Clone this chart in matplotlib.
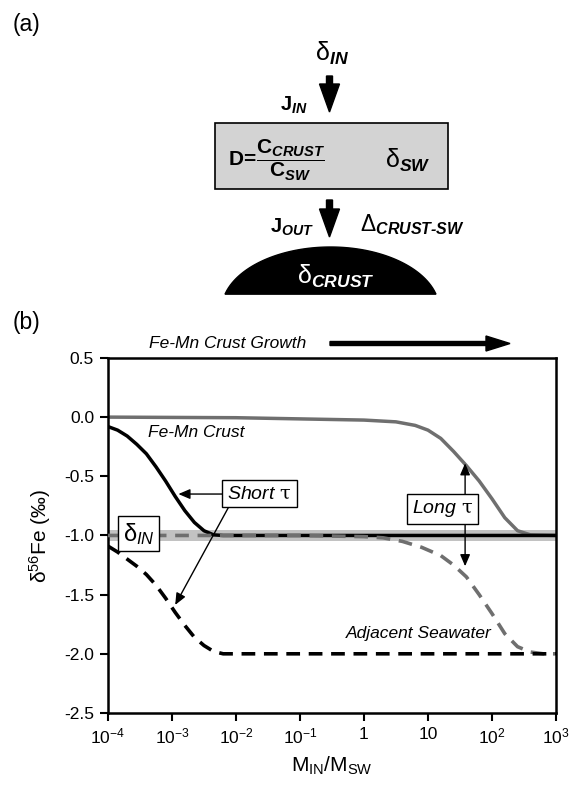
import numpy as np
import matplotlib
matplotlib.use("Agg")
import matplotlib.pyplot as plt
from matplotlib.patches import Rectangle, Polygon, FancyArrow
from matplotlib.ticker import FixedLocator, FixedFormatter, NullLocator

plt.rcParams["font.family"] = ["Liberation Sans", "DejaVu Sans"]
plt.rcParams["mathtext.fontset"] = "custom"
plt.rcParams["mathtext.rm"] = "Liberation Sans"
plt.rcParams["mathtext.it"] = "Liberation Sans:italic"
plt.rcParams["mathtext.bf"] = "Liberation Sans:bold"
plt.rcParams["mathtext.bfit"] = "Liberation Sans:italic:bold"
plt.rcParams["axes.unicode_minus"] = False

# ---------- model curves (x given as log10 of M_IN/M_SW) ----------
DELTA_IN = -1.0

crust_short_logx = [-4.0, -3.85, -3.7, -3.55, -3.4, -3.25, -3.1, -2.95, -2.8,
                    -2.65, -2.5, -2.35, -2.2, 3.0]
crust_short = [-0.08, -0.11, -0.16, -0.23, -0.31, -0.42, -0.54, -0.67, -0.79,
               -0.89, -0.96, -0.995, -1.0, -1.0]

sw_short_logx = [-4.0, -3.85, -3.7, -3.55, -3.4, -3.25, -3.1, -2.95, -2.8,
                 -2.65, -2.5, -2.35, -2.2, 3.0]
sw_short = [-1.09, -1.14, -1.20, -1.26, -1.33, -1.42, -1.53, -1.65, -1.76,
            -1.86, -1.93, -1.98, -2.0, -2.0]

crust_long_logx = [-4.0, -2.0, -1.0, 0.0, 0.5, 0.8, 1.0, 1.2, 1.4, 1.6, 1.8,
                   2.0, 2.2, 2.4, 2.6, 3.0]
crust_long = [0.0, -0.005, -0.015, -0.025, -0.04, -0.07, -0.11, -0.18, -0.29,
              -0.41, -0.54, -0.69, -0.85, -0.96, -0.995, -1.0]

sw_long_logx = [-4.0, -1.0, 0.0, 0.3, 0.6, 0.9, 1.2, 1.4, 1.6, 1.8, 2.0, 2.2,
                2.4, 2.6, 2.8, 3.0]
sw_long = [-1.0, -1.0, -1.01, -1.02, -1.05, -1.10, -1.17, -1.25, -1.35, -1.50,
           -1.66, -1.83, -1.94, -1.985, -2.0, -2.0]

x_ticks = [1e-4, 1e-3, 1e-2, 1e-1, 1, 10, 1e2, 1e3]
x_labels = ["10$^{-4}$", "10$^{-3}$", "10$^{-2}$", "10$^{-1}$", "1", "10",
            "10$^{2}$", "10$^{3}$"]
y_ticks = [0.5, 0.0, -0.5, -1.0, -1.5, -2.0, -2.5]
y_labels = ["0.5", "0.0", "-0.5", "-1.0", "-1.5", "-2.0", "-2.5"]

GRAY = "#6f6f6f"
BAND = "#c2c2c2"

fig = plt.figure(figsize=(5.85, 7.86), dpi=100)

# ---------- box model sketch, drawn in pixel units ----------
sk = fig.add_axes([0, 0, 1, 1])
sk.set_xlim(0, 585)
sk.set_ylim(786, 0)
sk.axis("off")

sk.text(13, 24, "(a)", fontsize=16.5, ha="left", va="center")
sk.text(332, 53, r"δ$_{\mathbfit{IN}}$", fontsize=18, ha="center", va="center")
sk.add_patch(FancyArrow(329.5, 76, 0, 36, width=6, head_width=20,
                        head_length=28, length_includes_head=True,
                        color="black"))
sk.text(294, 105, r"$\mathbf{J}_{\mathbfit{IN}}$", fontsize=14.5,
        ha="center", va="center")

sk.add_patch(Rectangle((214.5, 123), 233.5, 66, facecolor="#d3d3d3",
                       edgecolor="black", lw=1.2))
sk.text(228, 160,
        r"$\mathbf{D\!=\!}\dfrac{\mathbf{C}_{\mathbfit{CRUST}}}"
        r"{\mathbf{C}_{\mathbfit{SW}}}$",
        fontsize=15, ha="left", va="center")
sk.text(408, 160, r"δ$_{\mathbfit{SW}}$", fontsize=18, ha="center",
        va="center")

sk.add_patch(FancyArrow(329.5, 200, 0, 37, width=6, head_width=20,
                        head_length=28, length_includes_head=True,
                        color="black"))
sk.text(292, 227, r"$\mathbf{J}_{\mathbfit{OUT}}$", fontsize=14.5,
        ha="center", va="center")
sk.text(360, 225, r"Δ$_{\mathbfit{CRUST‐SW}}$", fontsize=16.5, ha="left",
        va="center")

# crust mound: top of an ellipse cut by a flat base
cx, cy, a, b = 330.5, 310, 109, 63
xs = np.linspace(cx - 105.5, cx + 105.5, 120)
ys = cy - b * np.sqrt(1 - ((xs - cx) / a) ** 2)
sk.add_patch(Polygon(np.column_stack([xs, ys]), closed=True,
                     facecolor="black", edgecolor="black"))
sk.text(336, 276, r"δ$_{\mathbfit{CRUST}}$", fontsize=18, color="white",
        ha="center", va="center")

# ---------- panel (b) header ----------
sk.text(13, 322, "(b)", fontsize=16.5, ha="left", va="center")
sk.text(149, 343, "Fe-Mn Crust Growth", fontsize=12.5, style="italic",
        ha="left", va="center")
sk.add_patch(FancyArrow(330, 343.5, 180, 0, width=4, head_width=15,
                        head_length=24, length_includes_head=True,
                        color="black"))

# ---------- delta56Fe vs M_IN/M_SW ----------
ax = fig.add_axes([0.1846, 0.0929, 0.7658, 0.4517])
ax.set_xscale("log")
ax.set_xlim(1e-4, 1e3)
ax.set_ylim(-2.5, 0.5)

ax.axhspan(DELTA_IN - 0.045, DELTA_IN + 0.045, color=BAND, lw=0, zorder=1)
ax.plot(10.0 ** np.array(crust_long_logx), crust_long, color=GRAY, lw=2.5,
        zorder=2)
ax.plot(10.0 ** np.array(crust_short_logx), crust_short, color="black",
        lw=2.5, zorder=3)
ax.plot(10.0 ** np.array(sw_long_logx), sw_long, color=GRAY, lw=2.6,
        ls=(0, (3.8, 2.4)), zorder=4)
ax.plot(10.0 ** np.array(sw_short_logx), sw_short, color="black", lw=2.6,
        ls=(0, (3.8, 2.4)), zorder=4)

box = dict(boxstyle="square,pad=0.25", fc="white", ec="black", lw=1)
ax.text(10 ** -3.375, -0.128, "Fe-Mn Crust", fontsize=12.5, style="italic",
        ha="left", va="center")
ax.text(10 ** 0.85, -1.83, "Adjacent Seawater", fontsize=12.5,
        style="italic", ha="center", va="center")
ax.text(10 ** -3.52, -0.985, r"δ$_{IN}$", fontsize=17, ha="center",
        va="center", bbox=dict(boxstyle="square,pad=0.2", fc="white",
                               ec="black", lw=1), zorder=6)

# short residence time (tau set in a serif face)
ax.text(10 ** -1.63, -0.645, r"$\mathit{Short}$ τ", fontsize=14,
        family=["DejaVu Serif"], ha="center", va="center", bbox=box, zorder=6)
arrow = dict(arrowstyle="-|>,head_length=0.7,head_width=0.3", color="black",
             lw=1, shrinkA=0, shrinkB=0)
ax.annotate("", xy=(10 ** -2.9, -0.65), xytext=(10 ** -2.12, -0.65),
            arrowprops=arrow, zorder=5)
ax.annotate("", xy=(10 ** -2.95, -1.587), xytext=(10 ** -2.12, -0.765),
            arrowprops=arrow, zorder=5)

# long residence time
ax.annotate("", xy=(10 ** 1.58, -0.39), xytext=(10 ** 1.58, -1.26),
            arrowprops=dict(arrowstyle="<|-|>,head_length=0.7,head_width=0.3",
                            color="black", lw=1, shrinkA=0, shrinkB=0),
            zorder=5)
ax.text(10 ** 1.23, -0.776, r"$\mathit{Long}$ τ", fontsize=14,
        family=["DejaVu Serif"], ha="center", va="center", bbox=box, zorder=6)

ax.xaxis.set_major_locator(FixedLocator(x_ticks))
ax.xaxis.set_major_formatter(FixedFormatter(x_labels))
ax.xaxis.set_minor_locator(NullLocator())
ax.yaxis.set_major_locator(FixedLocator(y_ticks))
ax.yaxis.set_major_formatter(FixedFormatter(y_labels))
ax.tick_params(direction="out", length=6, width=1.5, labelsize=12.5, pad=4)
for s in ax.spines.values():
    s.set_linewidth(1.8)

ax.set_xlabel(r"M$_{\rm IN}$/M$_{\rm SW}$", fontsize=15, labelpad=6)
ax.set_ylabel(r"δ$^{56}$Fe (‰)", fontsize=15, labelpad=8)

fig.savefig("out.png", dpi=100, facecolor="white")
